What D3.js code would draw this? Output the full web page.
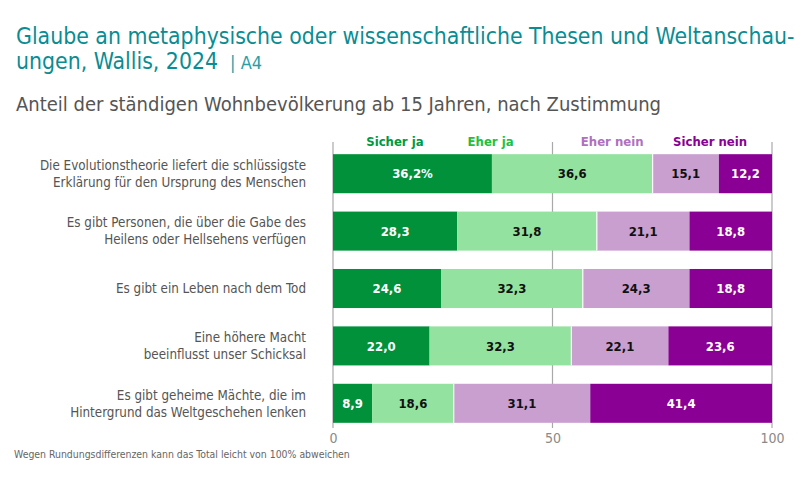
<!DOCTYPE html>
<html>
<head>
<meta charset="utf-8">
<script src="https://cdn.jsdelivr.net/npm/d3@7"></script>
<style>
  body { margin: 0; background: #fff; }
  text { font-family: "DejaVu Sans Condensed", "DejaVu Sans", sans-serif; }
</style>
</head>
<body>
<div id="chart"></div>
<script>
// Data
const categories = [
    ["Die Evolutionstheorie liefert die schlüssigste", "Erklärung für den Ursprung des Menschen"],
    ["Es gibt Personen, die über die Gabe des", "Heilens oder Hellsehens verfügen"],
    ["Es gibt ein Leben nach dem Tod"],
    ["Eine höhere Macht", "beeinflusst unser Schicksal"],
    ["Es gibt geheime Mächte, die im", "Hintergrund das Weltgeschehen lenken"]
];
const seriesNames = ["Sicher ja", "Eher ja", "Eher nein", "Sicher nein"];
const sicherJa   = [36.2, 28.3, 24.6, 22.0, 8.9];
const eherJa     = [36.6, 31.8, 32.3, 32.3, 18.6];
const eherNein   = [15.1, 21.1, 24.3, 22.1, 31.1];
const sicherNein = [12.2, 18.8, 18.8, 23.6, 41.4];
const tickValues = [0, 50, 100];
// legend anchor points on the value axis
const legendPos = [14.1, 35.9, 63.6, 85.9];

const barColors   = ["#00913a", "#93e2a0", "#c99fcf", "#8b0094"];
const legendColors = ["#00993f", "#22bf40", "#b070c0", "#8b0094"];
const labelColors = ["#fff", "#111", "#111", "#fff"];

const W = 809, H = 481;
const svg = d3.select("#chart").append("svg")
    .attr("width", W).attr("height", H);

// Title
const title = svg.append("text").attr("fill", "#0a8c93").style("font-size", "22.8px");
title.append("tspan").attr("x", 16).attr("y", 44).text("Glaube an metaphysische oder wissenschaftliche Thesen und Weltanschau-");
title.append("tspan").attr("x", 16).attr("y", 69).text("ungen, Wallis, 2024");
title.append("tspan").attr("dx", 12).style("font-size", "18px").style("font-weight", "300").attr("fill", "#2aa0a6").text("| A4");

svg.append("text")
    .attr("x", 16).attr("y", 111)
    .attr("fill", "#555")
    .style("font-size", "20px")
    .text("Anteil der ständigen Wohnbevölkerung ab 15 Jahren, nach Zustimmung");

// Scales
const x = d3.scaleLinear().domain([0, 100]).range([333, 772]);
const y = d3.scaleBand().domain(d3.range(categories.length)).range([145, 432]).paddingInner(0.32).paddingOuter(0.16);

// Grid
svg.append("g").selectAll("line").data(tickValues).join("line")
    .attr("x1", d => x(d)).attr("x2", d => x(d))
    .attr("y1", 142).attr("y2", 428)
    .attr("stroke", "#a9a9a9").attr("stroke-width", 1.2);

// Axis labels
const xAxis = d3.axisBottom(x).tickValues(tickValues).tickSize(0).tickPadding(0);
const ax = svg.append("g").attr("transform", "translate(0,430)").call(xAxis);
ax.select(".domain").remove();
ax.selectAll("text").attr("fill", "#8a8a8a").style("font-size", "14px")
    .style("font-family", "'DejaVu Sans Condensed', sans-serif").attr("dy", "0.9em");

// Legend
svg.append("g").selectAll("text").data(seriesNames).join("text")
    .attr("x", (d, i) => x(legendPos[i]))
    .attr("y", 146)
    .attr("text-anchor", "middle")
    .attr("fill", (d, i) => legendColors[i])
    .style("font-size", "13px").style("font-weight", "bold")
    .text(d => d);

// Stacked bars
const series = [sicherJa, eherJa, eherNein, sicherNein];
const rows = categories.map((c, i) => {
    let acc = 0;
    return series.map((s, k) => {
        const seg = { row: i, k, v: s[i], x0: acc, x1: Math.min(acc + s[i], 100) };
        acc += s[i];
        return seg;
    });
});

const segs = rows.flat();
const bars = svg.append("g");
bars.selectAll("rect").data(segs).join("rect")
    .attr("x", d => x(d.x0))
    .attr("width", d => x(d.x1) - x(d.x0))
    .attr("y", d => y(d.row))
    .attr("height", y.bandwidth())
    .attr("fill", d => barColors[d.k]);

// thin white separator between ja and nein
bars.selectAll("line.sep").data(segs.filter(d => d.k === 2)).join("line")
    .attr("class", "sep")
    .attr("x1", d => x(d.x0)).attr("x2", d => x(d.x0))
    .attr("y1", d => y(d.row)).attr("y2", d => y(d.row) + y.bandwidth())
    .attr("stroke", "#fff").attr("stroke-width", 1.2);

// Value labels
bars.selectAll("text").data(segs).join("text")
    .attr("x", d => x((d.x0 + d.x1) / 2))
    .attr("y", d => y(d.row) + y.bandwidth() / 2)
    .attr("dy", "0.36em")
    .attr("text-anchor", "middle")
    .attr("fill", d => labelColors[d.k])
    .style("font-size", "13px").style("font-weight", "bold")
    .text(d => d3.format(".1f")(d.v).replace(".", ",") + (d.row === 0 && d.k === 0 ? "%" : ""));

// Category labels
const cat = svg.append("g").selectAll("text").data(categories).join("text")
    .attr("text-anchor", "end")
    .attr("fill", "#555")
    .style("font-size", "13.3px");
cat.each(function (lines, i) {
    const cy = y(i) + y.bandwidth() / 2;
    const lh = 17;
    const start = cy - (lines.length - 1) * lh / 2;
    d3.select(this).selectAll("tspan").data(lines).join("tspan")
        .attr("x", 306)
        .attr("y", (d, j) => start + j * lh)
        .attr("dy", "0.36em")
        .text(d => d);
});

// Footnote
svg.append("text")
    .attr("x", 14).attr("y", 458)
    .attr("fill", "#666")
    .style("font-size", "10.4px")
    .text("Wegen Rundungsdifferenzen kann das Total leicht von 100% abweichen");
</script>
</body>
</html>
